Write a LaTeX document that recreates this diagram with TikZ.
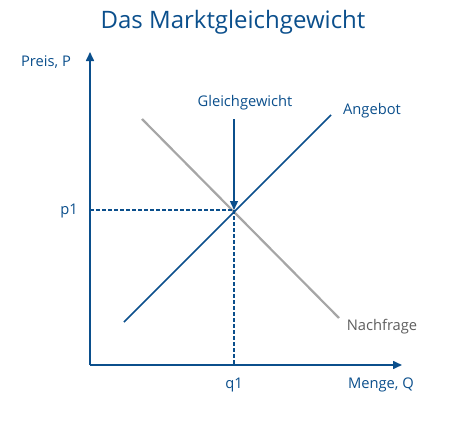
\documentclass[tikz,border=0pt]{standalone}
\usepackage{fontspec}
\setmainfont{Open Sans}
\usetikzlibrary{arrows.meta}
\definecolor{mblue}{HTML}{0B4F8C}
\definecolor{mgray}{HTML}{A6A6A6}
\definecolor{tgray}{HTML}{5E5E5E}

\begin{document}
\begin{tikzpicture}[
  x=1pt,y=-1pt,
  lbl/.style={text=mblue,font=\fontsize{14.7}{16}\selectfont,inner sep=0pt},
  axis/.style={-{Triangle[length=9pt,width=8pt]},mblue,line width=1.6pt},
  curve/.style={mblue,line width=1.6pt},
  guide/.style={mblue,dashed,dash pattern=on 4pt off 2pt,line width=1.2pt}
]
\useasboundingbox (0,0) rectangle (451,423);
% title
\node[text=mblue,font=\fontsize{24}{28}\selectfont,inner sep=0pt] (title) at (233,22) {Das Marktgleichgewicht};

% axes
\coordinate (origin) at (90,365);
\coordinate (ytop)   at (90,52);
\coordinate (xend)   at (402,365);
\draw[axis] (origin) -- (ytop);
\draw[axis] (origin) -- (xend);
\node[lbl] (plabel) at (46,62)  {Preis, P};
\node[lbl] (qlabel) at (381,385) {Menge, Q};

% curves
\coordinate (s0) at (124,322);
\coordinate (s1) at (331,115);
\coordinate (d0) at (142,119);
\coordinate (d1) at (339,318);
\coordinate (eq) at (234,210);
\draw[mgray,line width=2.2pt] (d0) -- (d1);
\draw[curve] (s0) -- (s1);
\node[lbl] (angebot)   at (372,111) {Angebot};
\node[lbl,text=tgray] (nachfrage) at (382,327) {Nachfrage};

% equilibrium
\coordinate (pax) at (90,210);
\coordinate (qax) at (234,365);
\draw[guide] (pax) -- (eq);
\draw[guide] (eq) -- (qax);
\node[lbl] (p1) at (69,211) {p1};
\node[lbl] (q1) at (234,385) {q1};
\node[lbl] (gleich) at (245,103) {Gleichgewicht};
\coordinate (gtop) at (234,119);
\draw[-{Triangle[length=9pt,width=8pt]},mblue,line width=1.4pt] (gtop) -- (eq);
\end{tikzpicture}
\end{document}
